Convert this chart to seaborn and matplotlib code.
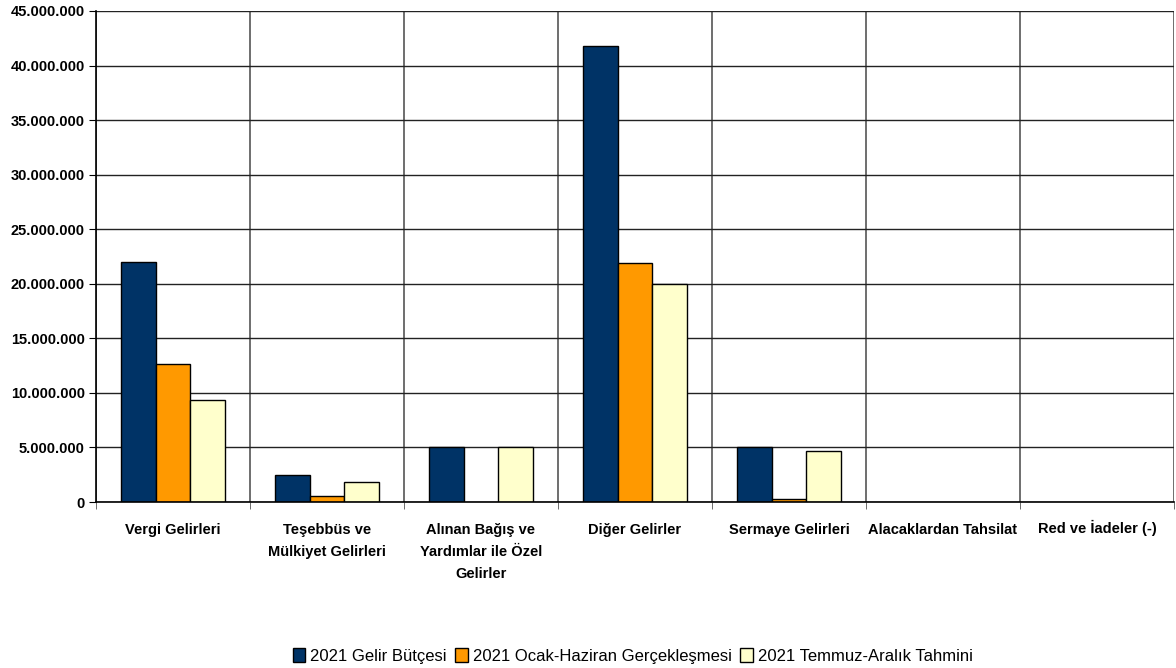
import numpy as np
import pandas as pd
import matplotlib
matplotlib.use("Agg")
import matplotlib.pyplot as plt
import matplotlib.transforms as mtransforms
import seaborn as sns
from matplotlib.ticker import FuncFormatter, MultipleLocator
from matplotlib.patches import Patch

categories = ["Vergi Gelirleri", "Teşebbüs ve\nMülkiyet Gelirleri",
              "Alınan Bağış ve\nYardımlar ile Özel\nGelirler", "Diğer Gelirler",
              "Sermaye Gelirleri", "Alacaklardan Tahsilat", "Red ve İadeler (-)"]
series_names = ["2021 Gelir Bütçesi", "2021 Ocak-Haziran Gerçekleşmesi", "2021 Temmuz-Aralık Tahmini"]
butce = [22000000, 2450000, 5000000, 41800000, 5000000, 0, 0]
ocak_haziran = [12650000, 580000, 0, 21900000, 300000, 0, 0]
temmuz_aralik = [9380000, 1830000, 5000000, 20000000, 4700000, 0, 0]
colors = ["#003366", "#FF9900", "#FFFFCC"]

df = pd.DataFrame({
    "Kategori": categories * 3,
    "Seri": [series_names[0]] * 7 + [series_names[1]] * 7 + [series_names[2]] * 7,
    "Deger": butce + ocak_haziran + temmuz_aralik,
})

sns.set_style("white")
plt.rcParams["font.family"] = ["Liberation Sans", "DejaVu Sans"]
plt.rcParams["text.color"] = "black"
plt.rcParams["xtick.color"] = "black"
plt.rcParams["ytick.color"] = "black"
plt.rcParams["axes.labelcolor"] = "black"

fig = plt.figure(figsize=(11.76, 6.68), dpi=100)
ax = fig.add_axes([96 / 1176, 1 - 502 / 668, (1174 - 96) / 1176, (502 - 11) / 668])

sns.barplot(data=df, x="Kategori", y="Deger", hue="Seri", order=categories,
            hue_order=series_names, palette=colors, width=0.67, saturation=1,
            edgecolor="black", linewidth=1.0, ax=ax, legend=False)
for p in ax.patches:
    if p.get_height() == 0:
        p.set_linewidth(0)

ax.set_xlim(-0.5, 6.5)
ax.set_ylim(0, 45000000)
ax.yaxis.set_major_locator(MultipleLocator(5000000))
ax.yaxis.set_major_formatter(FuncFormatter(lambda v, p: f"{int(v):,}".replace(",", ".")))
ax.set_xticks(np.arange(-0.5, 7, 1), minor=True)
ax.grid(True, which="major", axis="y", color="#222222", linewidth=1.0)
ax.grid(True, which="minor", axis="x", color="#555555", linewidth=1.2)
ax.set_axisbelow(True)
ax.tick_params(axis="x", which="major", length=0, pad=15)
ax.tick_params(axis="x", which="minor", length=5, color="#555555", direction="out", bottom=True)
ax.tick_params(axis="y", which="major", length=5, color="black", direction="out", left=True, pad=3)
for lab in ax.get_yticklabels():
    lab.set_fontweight("bold")
    lab.set_fontsize(10.5)
ax.set_xticklabels(categories, fontweight="bold", fontsize=10.5, linespacing=1.75, va="top")
for lab in ax.get_xticklabels():
    if "İ" in lab.get_text():
        lab.set_transform(lab.get_transform() +
                          mtransforms.ScaledTranslation(0, 3 / 100, fig.dpi_scale_trans))
ax.set_xlabel("")
ax.set_ylabel("")
for s in ["top", "right"]:
    ax.spines[s].set_visible(False)
ax.spines["left"].set_color("black")
ax.spines["bottom"].set_color("black")
ax.spines["left"].set_linewidth(1.2)
ax.spines["bottom"].set_linewidth(1.2)

handles = [Patch(facecolor=c, edgecolor="black", linewidth=1.0) for c in colors]
fig.legend(handles, series_names, loc="center", bbox_to_anchor=(0.538, 1 - 656 / 668), ncol=3,
           frameon=False, fontsize=12, handlelength=0.75, handleheight=0.9,
           handletextpad=0.3, columnspacing=0.5)

fig.savefig("out.png", dpi=100)
